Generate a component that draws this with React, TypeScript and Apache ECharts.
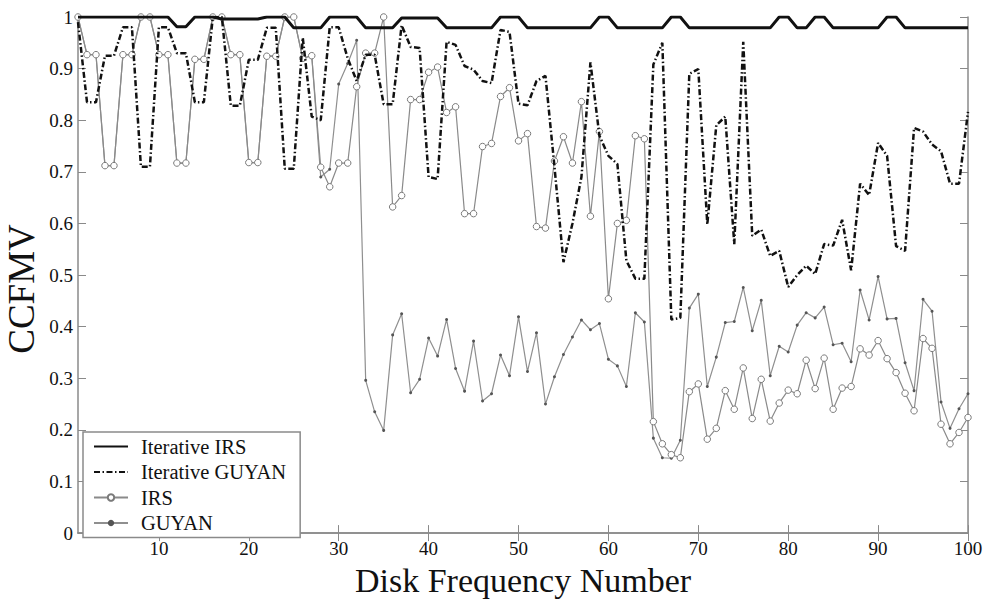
import React, { useEffect, useRef } from "react";
import * as echarts from "echarts";

const diskNumbers: string[] = Array.from({ length: 100 }, (_, i) => String(i + 1));

const iterativeIRS: number[] = [
  1.0, 1.0, 1.0, 1.0, 1.0, 1.0, 1.0, 1.0, 1.0, 1.0,
  1.0, 0.981, 0.981, 1.0, 1.0, 1.0, 0.996, 0.996, 0.996, 0.996,
  0.996, 1.0, 1.0, 1.0, 0.979, 0.979, 0.979, 0.979, 1.0, 1.0,
  1.0, 1.0, 0.979, 0.979, 0.979, 0.979, 0.998, 0.998, 0.998, 0.998,
  0.998, 0.979, 0.979, 0.979, 0.979, 0.979, 0.979, 1.0, 1.0, 1.0,
  0.979, 0.979, 0.979, 0.979, 0.979, 0.979, 0.979, 0.979, 1.0, 1.0,
  0.979, 0.979, 0.979, 0.979, 0.979, 0.979, 1.0, 1.0, 0.979, 0.979,
  0.979, 0.979, 0.979, 0.979, 0.979, 0.979, 0.979, 0.979, 1.0, 1.0,
  0.979, 0.979, 1.0, 1.0, 0.979, 0.979, 0.979, 0.979, 0.979, 0.979,
  1.0, 1.0, 0.979, 0.979, 0.979, 0.979, 0.979, 0.979, 0.979, 0.979,
];

const iterativeGUYAN: number[] = [
  0.99, 0.835, 0.835, 0.925, 0.925, 0.98, 0.98, 0.71, 0.71, 0.98,
  0.98, 0.93, 0.93, 0.835, 0.835, 1.0, 1.0, 0.828, 0.828, 0.917,
  0.917, 0.979, 0.979, 0.706, 0.706, 0.96, 0.807, 0.8, 0.98, 0.98,
  0.92, 0.876, 0.927, 0.927, 0.831, 0.831, 0.984, 0.942, 0.94, 0.69,
  0.686, 0.952, 0.946, 0.905, 0.898, 0.876, 0.872, 0.975, 0.971, 0.832,
  0.829, 0.876, 0.886, 0.71, 0.525, 0.6, 0.69, 0.912, 0.77, 0.731,
  0.715, 0.528, 0.493, 0.493, 0.908, 0.95, 0.414, 0.417, 0.89, 0.899,
  0.598, 0.79, 0.807, 0.56, 0.952, 0.576, 0.588, 0.537, 0.547, 0.477,
  0.5, 0.518, 0.502, 0.56, 0.557, 0.607, 0.509, 0.677, 0.655, 0.756,
  0.731, 0.556, 0.547, 0.785, 0.778, 0.753, 0.74, 0.677, 0.677, 0.816,
];

const irsValues: number[] = [
  1.0, 0.927, 0.927, 0.712, 0.712, 0.927, 0.927, 1.0, 1.0, 0.927,
  0.927, 0.717, 0.717, 0.918, 0.918, 1.0, 1.0, 0.927, 0.927, 0.718,
  0.718, 0.924, 0.924, 1.0, 1.0, 0.92, 0.925, 0.709, 0.671, 0.717,
  0.717, 0.865, 0.93, 0.93, 1.0, 0.632, 0.654, 0.84, 0.84, 0.893,
  0.903, 0.815, 0.826, 0.619, 0.619, 0.749, 0.755, 0.846, 0.863, 0.76,
  0.774, 0.594, 0.591, 0.721, 0.768, 0.717, 0.836, 0.614, 0.778, 0.454,
  0.6, 0.606, 0.77, 0.764, 0.216, 0.173, 0.152, 0.146, 0.274, 0.289,
  0.182, 0.203, 0.276, 0.24, 0.32, 0.222, 0.298, 0.217, 0.252, 0.277,
  0.27, 0.335, 0.28, 0.339, 0.24, 0.281, 0.284, 0.357, 0.345, 0.373,
  0.338, 0.311, 0.271, 0.237, 0.377, 0.358, 0.211, 0.173, 0.195, 0.224,
];

const guyanValues: number[] = [
  1.0, 0.927, 0.927, 0.712, 0.712, 0.927, 0.927, 1.0, 1.0, 0.927,
  0.927, 0.717, 0.717, 0.918, 0.918, 1.0, 1.0, 0.927, 0.927, 0.718,
  0.718, 0.924, 0.924, 1.0, 1.0, 0.92, 0.925, 0.69, 0.705, 0.87,
  0.91, 0.955, 0.296, 0.235, 0.199, 0.384, 0.425, 0.272, 0.298, 0.378,
  0.343, 0.414, 0.319, 0.275, 0.372, 0.256, 0.27, 0.345, 0.305, 0.419,
  0.313, 0.388, 0.25, 0.303, 0.346, 0.38, 0.413, 0.394, 0.406, 0.337,
  0.324, 0.284, 0.427, 0.409, 0.184, 0.146, 0.145, 0.18, 0.436, 0.463,
  0.284, 0.341, 0.408, 0.41, 0.476, 0.392, 0.451, 0.305, 0.362, 0.351,
  0.403, 0.427, 0.417, 0.438, 0.365, 0.368, 0.332, 0.471, 0.413, 0.497,
  0.415, 0.416, 0.33, 0.276, 0.453, 0.43, 0.254, 0.203, 0.241, 0.27,
];

const seriesNames: string[] = ["Iterative IRS", "Iterative GUYAN", "IRS", "GUYAN"];
const yAxisTitle = "CCFMV";
const xAxisTitle = "Disk Frequency Number";

const FONT = "'Liberation Serif', 'DejaVu Serif', serif";
const AXIS_GRAY = "#8a8a8a";

export default function App() {
  const ref = useRef<HTMLDivElement>(null);

  useEffect(() => {
    document.body.style.margin = "0";
    if (!ref.current) return;
    const chart = echarts.init(ref.current, undefined, { renderer: "svg" });

    const tickEvery10 = (index: number) => (index + 1) % 10 === 0;

    const option: any = {
      animation: false,
      backgroundColor: "#ffffff",
      grid: { left: 78, right: 24, top: 17, bottom: 60, containLabel: false },
      graphic: [
        {
          type: "text",
          x: 21,
          y: 289,
          rotation: Math.PI / 2,
          style: {
            text: yAxisTitle,
            fontFamily: FONT,
            fontSize: 37,
            fill: "#111",
            align: "center",
            verticalAlign: "middle",
          },
        },
      ],
      legend: {
        orient: "vertical",
        left: 83,
        top: 432,
        data: [
          { name: seriesNames[0], itemStyle: { opacity: 0 } },
          { name: seriesNames[1], itemStyle: { opacity: 0 } },
          { name: seriesNames[2] },
          { name: seriesNames[3] },
        ],
        backgroundColor: "#ffffff",
        borderColor: AXIS_GRAY,
        borderWidth: 1.5,
        padding: [4, 14, 4, 10],
        itemGap: 4.5,
        itemWidth: 34,
        itemHeight: 8,
        textStyle: { fontFamily: FONT, fontSize: 20.5, color: "#111", padding: [0, 0, 0, 8] },
      },
      xAxis: [
        {
          type: "category",
          data: diskNumbers,
          boundaryGap: false,
          position: "bottom",
          name: xAxisTitle,
          nameLocation: "middle",
          nameGap: 24,
          nameTextStyle: { fontFamily: FONT, fontSize: 34, color: "#111" },
          axisLine: { show: true, lineStyle: { color: AXIS_GRAY, width: 1.5 } },
          axisTick: { show: true, inside: true, length: 8, interval: tickEvery10, lineStyle: { color: AXIS_GRAY } },
          axisLabel: { interval: tickEvery10, fontFamily: FONT, fontSize: 19, color: "#111", margin: 6 },
          splitLine: { show: false },
        },
        {
          type: "category",
          data: diskNumbers,
          boundaryGap: false,
          position: "top",
          axisLine: { show: true, lineStyle: { color: AXIS_GRAY, width: 1.5 } },
          axisTick: { show: true, inside: true, length: 8, interval: tickEvery10, lineStyle: { color: AXIS_GRAY } },
          axisLabel: { show: false },
          splitLine: { show: false },
        },
      ],
      yAxis: [
        {
          type: "value",
          min: 0,
          max: 1,
          interval: 0.1,
          position: "left",
          axisLine: { show: true, lineStyle: { color: AXIS_GRAY, width: 1.5 } },
          axisTick: { show: true, inside: true, length: 8, lineStyle: { color: AXIS_GRAY } },
          axisLabel: { fontFamily: FONT, fontSize: 19, color: "#111", margin: 5 },
          splitLine: { show: false },
        },
        {
          type: "value",
          min: 0,
          max: 1,
          interval: 0.1,
          position: "right",
          axisLine: { show: true, lineStyle: { color: AXIS_GRAY, width: 1.5 } },
          axisTick: { show: true, inside: true, length: 8, lineStyle: { color: AXIS_GRAY } },
          axisLabel: { show: false },
          splitLine: { show: false },
        },
      ],
      series: [
        {
          name: seriesNames[3],
          type: "line",
          data: guyanValues,
          symbol: "circle",
          symbolSize: 3,
          showSymbol: true,
          showAllSymbol: true,
          itemStyle: { color: "#555" },
          lineStyle: { color: "#8f8f8f", width: 1.2 },
          z: 2,
        },
        {
          name: seriesNames[2],
          type: "line",
          data: irsValues,
          symbol: "circle",
          symbolSize: 6.5,
          showSymbol: true,
          showAllSymbol: true,
          itemStyle: { color: "#ffffff", borderColor: "#7a7a7a", borderWidth: 1 },
          lineStyle: { color: "#8a8a8a", width: 1.2 },
          z: 3,
        },
        {
          name: seriesNames[1],
          type: "line",
          data: iterativeGUYAN,
          symbol: "none",
          itemStyle: { color: "#111" },
          lineStyle: { color: "#111", width: 2.5, type: [6, 2.5, 1.5, 2.5] },
          z: 4,
        },
        {
          name: seriesNames[0],
          type: "line",
          data: iterativeIRS,
          symbol: "none",
          itemStyle: { color: "#111" },
          lineStyle: { color: "#111", width: 3 },
          z: 5,
        },
      ],
    };

    chart.setOption(option);
    return () => chart.dispose();
  }, []);

  return <div ref={ref} style={{ width: 992, height: 602 }} />;
}
